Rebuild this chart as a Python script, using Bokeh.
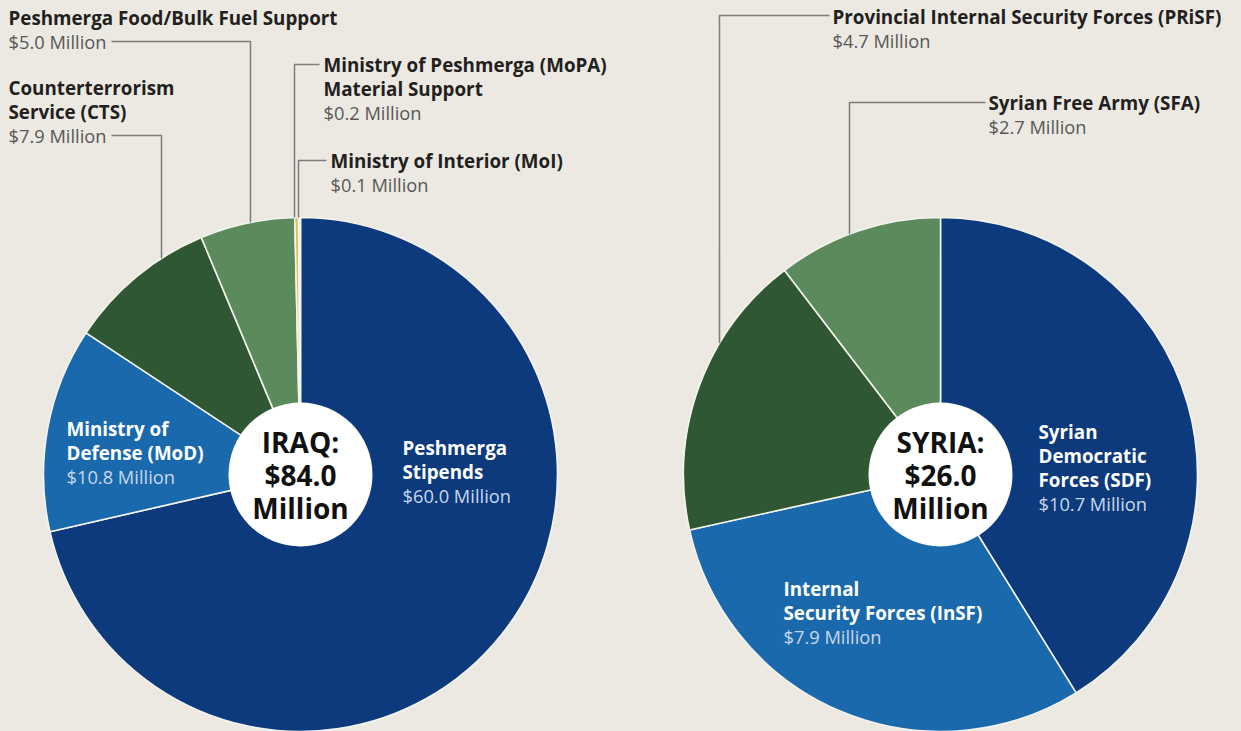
import numpy as np
from bokeh.plotting import figure
from bokeh.models import Range1d, ColumnDataSource
from bokeh.core.properties import value
from bokeh.embed import file_html
from bokeh.resources import INLINE

# ---------------- data ----------------
iraq_labels = ["Peshmerga\nStipends", "Ministry of\nDefense (MoD)", "Counterterrorism\nService (CTS)",
               "Peshmerga Food/Bulk Fuel Support", "Ministry of Peshmerga (MoPA)\nMaterial Support",
               "Ministry of Interior (MoI)"]
iraq_values = [60.0, 10.8, 7.9, 5.0, 0.2, 0.1]
iraq_colors = ["#0c3a7c", "#1b69ad", "#2f5733", "#5b8a5c", "#e0c050", "#efe2a8"]
iraq_title = ["IRAQ:", "$84.0", "Million"]

syria_labels = ["Syrian\nDemocratic\nForces (SDF)", "Internal\nSecurity Forces (InSF)",
                "Provincial Internal Security Forces (PRiSF)", "Syrian Free Army (SFA)"]
syria_values = [10.7, 7.9, 4.7, 2.7]
syria_colors = ["#0c3a7c", "#1b69ad", "#2f5733", "#5b8a5c"]
syria_title = ["SYRIA:", "$26.0", "Million"]

# ---------------- layout ----------------
W, H = 1241, 731
BG = "#ebe9e1"
FONT = "Open Sans"

def P(X, Y):
    """page pixel -> data coords"""
    return X, H - Y

R = 257
HOLE = 72
LINE_H = 24

p = figure(width=W, height=H, x_range=Range1d(0, W), y_range=Range1d(0, H),
           output_backend="svg", toolbar_location=None, min_border=0)
p.axis.visible = False
p.grid.visible = False
p.outline_line_color = None
p.background_fill_color = BG
p.border_fill_color = BG

def draw_pie(center, values, colors):
    cx, cy = P(*center)
    vals = np.array(values, dtype=float)
    frac = np.cumsum(vals) / vals.sum()
    starts = np.pi / 2 - 2 * np.pi * np.concatenate([[0], frac[:-1]])
    ends = np.pi / 2 - 2 * np.pi * frac
    src = ColumnDataSource(dict(x=[cx] * len(vals), y=[cy] * len(vals),
                                s=starts, e=ends, c=colors))
    p.wedge(x="x", y="y", radius=R, start_angle="s", end_angle="e", direction="clock",
            fill_color="c", line_color="#f4f4ee", line_width=1.6, source=src)
    p.scatter([cx], [cy], size=2 * HOLE, fill_color="white", line_color=None)
    return cx, cy

def draw_title(cx, cy, lines):
    ys = [cy + 33, cy, cy - 33]
    p.text(x=[cx] * 3, y=ys, text=lines, text_font=value(FONT), text_font_size="28px",
           text_font_style="bold", text_color="#111111", text_align="center",
           text_baseline="middle")

def draw_label(anchor, label, val, inside):
    x, y = P(*anchor)
    lines = label.split("\n")
    ys = [y - i * LINE_H for i in range(len(lines))]
    p.text(x=[x] * len(lines), y=ys, text=lines, text_font=value(FONT),
           text_font_size="18.8px", text_font_style="bold",
           text_color="#ffffff" if inside else "#231f20",
           text_align="left", text_baseline="middle")
    p.text(x=[x], y=[y - len(lines) * LINE_H], text=[f"${val:.1f} Million"],
           text_font=value(FONT), text_font_size="18.3px",
           text_color="#c9d7ec" if inside else "#585858",
           text_align="left", text_baseline="middle")

def leader(cx, cy, x_start, y_line, x_vert):
    xs, ys = P(x_start, y_line)
    xv, _ = P(x_vert, y_line)
    y_edge = cy + np.sqrt(R ** 2 - (xv - cx) ** 2)
    p.line([xs, xv, xv], [ys, ys, y_edge], line_color="#7d7d7d", line_width=1.5)

# Iraq
icx, icy = draw_pie((300, 474), iraq_values, iraq_colors)
iraq_anchor = [(402, 447), (66, 428), (8, 87), (8, 17), (323, 64), (330, 160)]
iraq_inside = [True, True, False, False, False, False]
for a, l, v, ins in zip(iraq_anchor, iraq_labels, iraq_values, iraq_inside):
    draw_label(a, l, v, ins)
leader(icx, icy, 111, 41, 250)
leader(icx, icy, 111, 135, 161)
leader(icx, icy, 319, 64, 294)
leader(icx, icy, 326, 160, 298)
draw_title(icx, icy, iraq_title)

# Syria
scx, scy = draw_pie((940, 474), syria_values, syria_colors)
syria_anchor = [(1038, 431), (783, 588), (832, 16), (988, 102)]
syria_inside = [True, True, False, False]
for a, l, v, ins in zip(syria_anchor, syria_labels, syria_values, syria_inside):
    draw_label(a, l, v, ins)
leader(scx, scy, 829, 15, 719)
leader(scx, scy, 985, 102, 849)
draw_title(scx, scy, syria_title)

html = file_html(p, INLINE, title="Iraq and Syria support")
html = html.replace("</head>", "<style>body{background:%s;}</style></head>" % BG, 1)
open("out.html", "w").write(html)
